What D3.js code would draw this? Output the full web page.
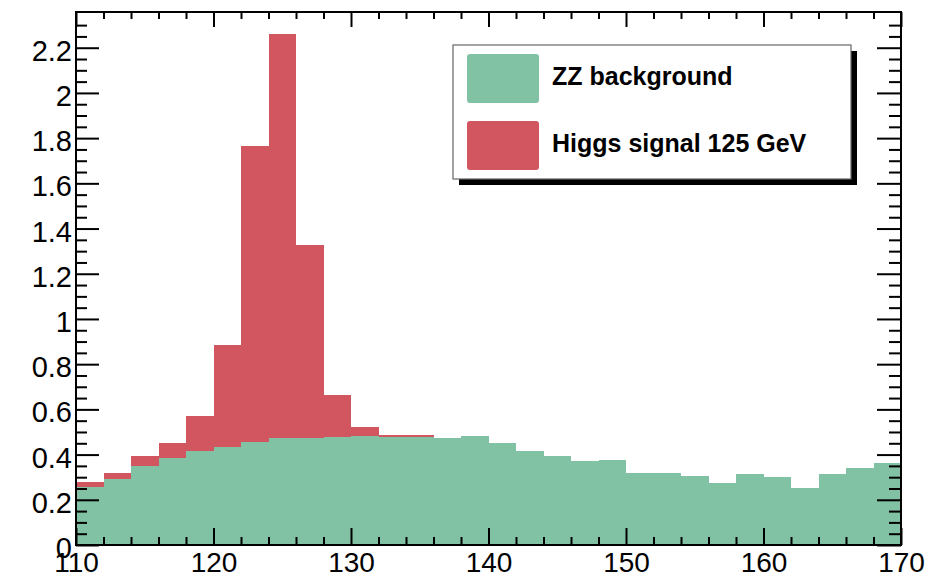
<!DOCTYPE html>
<html lang="en">
<head>
<meta charset="utf-8">
<title>ZZ background and Higgs signal</title>
<script src="https://d3js.org/d3.v7.min.js"></script>
<style>
  body { margin: 0; background: white; }
  svg { display: block; font-family: "Liberation Sans", Arial, sans-serif; }
  .tick line { stroke: black; stroke-width: 2; }
</style>
</head>
<body>
<script>
// bin low edges (GeV), 2 GeV wide
let binEdges = [110,112,114,116,118,120,122,124,126,128,130,132,134,136,138,140,
                142,144,146,148,150,152,154,156,158,160,162,164,166,168]
let binWidth = 2
let zzBackground = [0.255,0.292,0.351,0.386,0.416,0.435,0.454,0.472,0.473,0.479,
                    0.482,0.479,0.477,0.475,0.482,0.450,0.416,0.395,0.373,0.378,
                    0.320,0.320,0.305,0.276,0.313,0.302,0.251,0.314,0.339,0.364]
let higgsSignal = [0.022,0.028,0.044,0.067,0.156,0.449,1.311,1.787,0.854,0.185,
                   0.042,0.008,0.008,0,0,0,0,0,0,0,0,0,0,0,0,0,0,0,0,0]
let xMajorTicks = [110,120,130,140,150,160,170]
let yMajorTicks = [0,0.2,0.4,0.6,0.8,1,1.2,1.4,1.6,1.8,2,2.2]
let legendLabels = ["ZZ background", "Higgs signal 125 GeV"]

let width = 945
let height = 578
let padL = 76, padR = 901, padT = 12, padB = 545
let green = "#80c2a3"
let red = "#d15660"

let svg = d3.select("body").append("svg")
    .attr("width", width)
    .attr("height", height)

let x = d3.scaleLinear().domain([110, 170]).range([padL, padR])
let y = d3.scaleLinear().domain([0, 2.358]).range([padB, padT])

let bins = binEdges.map((b, i) => ({lo: b, hi: b + binWidth, bg: zzBackground[i], sig: higgsSignal[i]}))

// stacked histogram: background first, signal on top
svg.append("g").selectAll("rect")
    .data(bins).enter().append("rect")
    .attr("x", d => x(d.lo))
    .attr("width", d => x(d.hi) - x(d.lo))
    .attr("y", d => y(d.bg))
    .attr("height", d => y(0) - y(d.bg))
    .attr("fill", green)
    .attr("shape-rendering", "crispEdges")

svg.append("g").selectAll("rect")
    .data(bins.filter(d => d.sig > 0)).enter().append("rect")
    .attr("x", d => x(d.lo))
    .attr("width", d => x(d.hi) - x(d.lo))
    .attr("y", d => y(d.bg + d.sig))
    .attr("height", d => y(d.bg) - y(d.bg + d.sig))
    .attr("fill", red)
    .attr("shape-rendering", "crispEdges")

let xMinor = d3.range(110, 170.01, 2).filter(v => v % 10 !== 0)
let yMinor = d3.range(0, 2.35, 0.05).map(v => +v.toFixed(2)).filter(v => Math.round(v * 100) % 20 !== 0)

let addAxis = (axis, transform, fontSize) => {
    let g = svg.append("g")
        .attr("transform", transform)
        .call(axis)
    g.select(".domain").remove()
    g.selectAll("text").attr("font-size", fontSize).attr("fill", "black")
        .attr("font-family", "'Liberation Sans', Arial, sans-serif")
    return g
}

// bottom
addAxis(d3.axisBottom(x).tickValues(xMajorTicks).tickSize(-17).tickPadding(7).tickFormat(d => d),
    `translate(0,${padB})`, 28)
addAxis(d3.axisBottom(x).tickValues(xMinor).tickSize(-8).tickFormat(""), `translate(0,${padB})`, 0)
// top
addAxis(d3.axisTop(x).tickValues(xMajorTicks).tickSize(-15).tickFormat(""), `translate(0,${padT})`, 0)
addAxis(d3.axisTop(x).tickValues(xMinor).tickSize(-7).tickFormat(""), `translate(0,${padT})`, 0)
// left
let yl = addAxis(d3.axisLeft(y).tickValues(yMajorTicks).tickSize(-23).tickPadding(4).tickFormat(d => d),
    `translate(${padL},0)`, 29)
yl.selectAll("text").attr("dy", "0.43em")
addAxis(d3.axisLeft(y).tickValues(yMinor).tickSize(-11).tickFormat(""), `translate(${padL},0)`, 0)
// right
addAxis(d3.axisRight(y).tickValues(yMajorTicks).tickSize(-24).tickFormat(""), `translate(${padR},0)`, 0)
addAxis(d3.axisRight(y).tickValues(yMinor).tickSize(-12).tickFormat(""), `translate(${padR},0)`, 0)

// frame
svg.append("rect")
    .attr("x", padL).attr("y", padT)
    .attr("width", padR - padL).attr("height", padB - padT)
    .attr("fill", "none").attr("stroke", "black").attr("stroke-width", 2)

// legend
let legend = svg.append("g").attr("transform", "translate(453,45)")
legend.append("rect").attr("x", 6).attr("y", 6).attr("width", 398).attr("height", 134).attr("fill", "black")
legend.append("rect").attr("x", 0).attr("y", 0).attr("width", 398).attr("height", 134)
    .attr("fill", "white").attr("stroke", "#666").attr("stroke-width", 1.2)
let colors = [green, red]
legendLabels.forEach((lab, i) => {
    legend.append("rect")
        .attr("x", 14).attr("y", 9 + i * 67)
        .attr("width", 72).attr("height", 49)
        .attr("rx", 3)
        .attr("fill", colors[i])
    legend.append("text")
        .attr("x", 99).attr("y", 40 + i * 67)
        .attr("font-size", 25).attr("font-weight", "bold")
        .attr("fill", "black")
        .text(lab)
})
</script>
</body>
</html>
